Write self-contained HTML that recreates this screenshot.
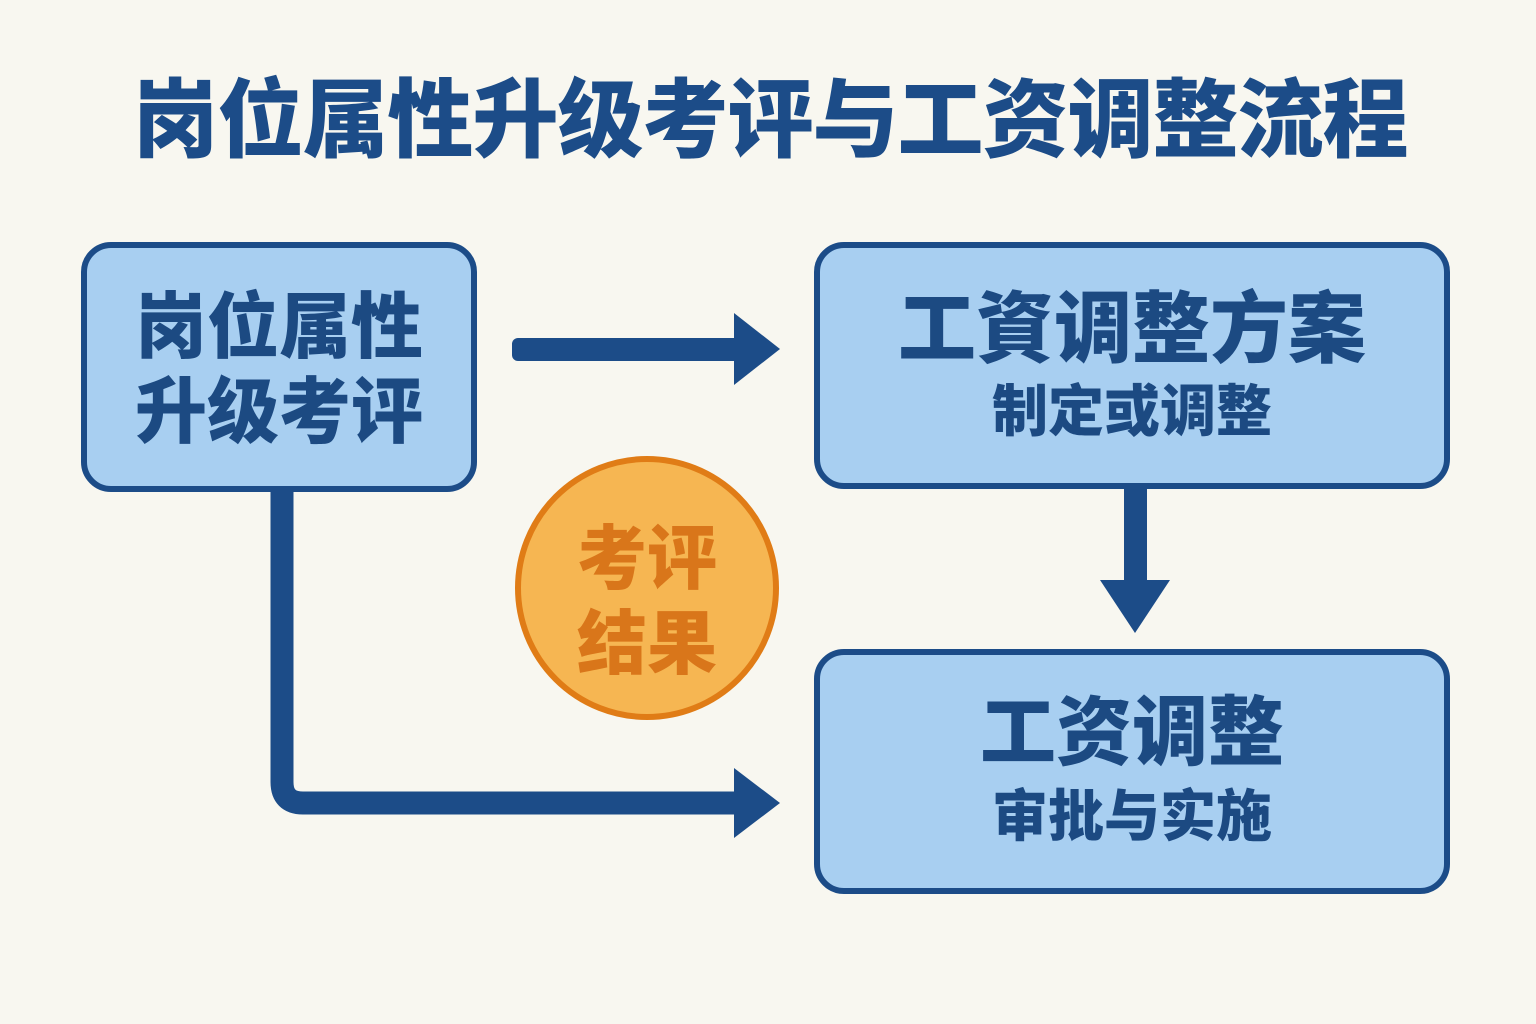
<!DOCTYPE html>
<html><head><meta charset="utf-8"><style>
html,body{margin:0;padding:0;}
body{width:1536px;height:1024px;background:#f8f7f0;position:relative;overflow:hidden;font-family:"Liberation Sans","Noto Sans CJK SC",sans-serif;font-weight:900;}
.t{position:absolute;left:0;width:1536px;text-align:center;white-space:nowrap;}
.box{position:absolute;background:#a8cff1;border:6px solid #1c4c88;border-radius:30px;box-sizing:border-box;}
.c{position:absolute;white-space:nowrap;text-align:center;color:#1c4a82;font-weight:900;line-height:1;}
</style></head><body>
<div class="t" style="top:78px;font-size:86px;color:#1c4c88;line-height:1;left:2px;letter-spacing:-1px;">岗位属性升级考评与工资调整流程</div>

<svg width="1536" height="1024" style="position:absolute;left:0;top:0">
  <g fill="#1c4c88" stroke="none">
    <rect x="512" y="338" width="232" height="23" rx="6"/>
    <polygon points="734,313 780,349 734,385"/>
    <rect x="1124" y="488" width="23" height="96"/>
    <polygon points="1100,580 1170,580 1135,633"/>
    <polygon points="734,768 780,803 734,838"/>
  </g>
  <path d="M282 491 L282 782 Q282 803 303 803 L744 803" fill="none" stroke="#1c4c88" stroke-width="23"/>
  <circle cx="647" cy="588" r="129" fill="#f6b652" stroke="#e07c16" stroke-width="6"/>
</svg>

<div class="box" style="left:81px;top:242px;width:396px;height:250px;"></div>
<div class="c" style="left:82px;width:394px;top:292px;font-size:72px;">岗位属性</div>
<div class="c" style="left:82px;width:394px;top:377px;font-size:72px;">升级考评</div>

<div class="box" style="left:814px;top:242px;width:636px;height:247px;"></div>
<div class="c" style="left:814px;width:636px;top:290px;font-size:78px;">工資调整方案</div>
<div class="c" style="left:814px;width:636px;top:384px;font-size:56px;">制定或调整</div>

<div class="box" style="left:814px;top:649px;width:636px;height:245px;"></div>
<div class="c" style="left:814px;width:636px;top:696px;font-size:76px;">工资调整</div>
<div class="c" style="left:814px;width:636px;top:789px;font-size:56px;">审批与实施</div>

<div class="c" style="left:517px;width:260px;top:524px;font-size:70px;color:#d9761a;">考评</div>
<div class="c" style="left:517px;width:260px;top:609px;font-size:70px;color:#d9761a;">结果</div>
</body></html>
